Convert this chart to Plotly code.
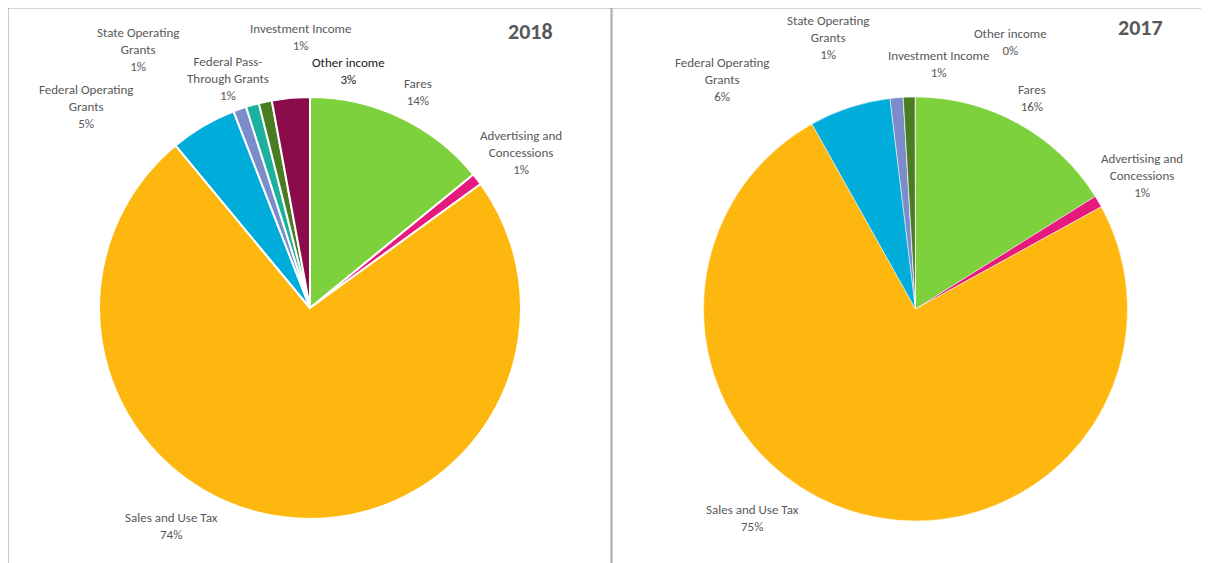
import plotly.graph_objects as go

# page body has an 8px margin, so the figure starts at (8, 8)
OFF = 8
W, H = 1209 - OFF, 563 - OFF

categories = ["Fares", "Advertising and Concessions", "Sales and Use Tax",
              "Federal Operating Grants", "State Operating Grants",
              "Federal Pass-Through Grants", "Investment Income", "Other income"]
display_names = ["Fares", "Advertising and<br>Concessions", "Sales and Use Tax",
                 "Federal Operating<br>Grants", "State Operating<br>Grants",
                 "Federal Pass-<br>Through Grants", "Investment Income", "Other income"]
values_2018 = [14.1, 0.9, 74.0, 5.1, 1.0, 1.0, 1.0, 2.9]
values_2017 = [16.1, 0.9, 74.9, 6.2, 1.0, 0.0, 0.9, 0.02]
years = ["2018", "2017"]

colors = ["#7DD13D", "#E6197D", "#FDB70F", "#00ACDA", "#7A8DCA",
          "#1AB29C", "#4A7D22", "#8A0C4A"]

# layout (pixel positions in the window)
pie_boxes = {"2018": (99, 521, 97, 519), "2017": (703, 1128, 97, 521)}
label_pos = {
    "2018": [(418, 92), (521, 152), (171, 526), (86, 107), (138, 49),
             (228, 78), (300, 37), (348, 71)],
    "2017": [(1032, 98), (1142, 175), (752, 518), (722, 79), (828, 37),
             (None, None), (938, 64), (1010, 42)],
}
title_pos = {"2018": (530, 31), "2017": (1140, 28)}
panels = [(8, 611), (612, 1215)]

FONT = "Carlito, Lato, Liberation Sans, Arial, sans-serif"

def px(x):
    return (x - OFF) / W

def py(y):
    return 1 - (y - OFF) / H

fig = go.Figure()
data = {"2018": values_2018, "2017": values_2017}
line_w = {"2018": 2, "2017": 0.5}

for yr in years:
    x0, x1, y0, y1 = pie_boxes[yr]
    fig.add_trace(go.Pie(
        labels=categories, values=data[yr], sort=False, direction="clockwise",
        rotation=0, textinfo="none", showlegend=False,
        marker=dict(colors=colors, line=dict(color="white", width=line_w[yr])),
        domain=dict(x=[px(x0), px(x1)], y=[py(y1), py(y0)]),
        name=yr,
    ))

annotations = []
for yr in years:
    vals = data[yr]
    total = sum(vals)
    for i, (name, v) in enumerate(zip(display_names, vals)):
        lx, ly = label_pos[yr][i]
        if lx is None or v == 0:
            continue
        pct = f"{round(v / total * 100):.0f}%"
        color = "#1a1a1a" if (yr == "2018" and categories[i] == "Other income") else "#595959"
        annotations.append(dict(
            x=px(lx), y=py(ly), xref="paper", yref="paper",
            text=f"{name}<br>{pct}", showarrow=False, align="center",
            xanchor="center", yanchor="middle",
            font=dict(family=FONT, size=13, color=color),
        ))
    tx, ty = title_pos[yr]
    annotations.append(dict(
        x=px(tx), y=py(ty), xref="paper", yref="paper", text=f"<b>{yr}</b>",
        showarrow=False, xanchor="center", yanchor="middle",
        font=dict(family=FONT, size=22, color="#595959"),
    ))

shapes = []
for (a, b) in panels:
    shapes.append(dict(type="rect", xref="paper", yref="paper",
                       x0=px(a), x1=px(b), y0=py(580), y1=py(8),
                       line=dict(color="#A6A6A6", width=1.2), fillcolor="rgba(0,0,0,0)"))

fig.update_layout(
    width=W, height=H, margin=dict(l=0, r=0, t=0, b=0),
    paper_bgcolor="white", plot_bgcolor="white",
    annotations=annotations, shapes=shapes,
)

fig.write_html("out.html")
